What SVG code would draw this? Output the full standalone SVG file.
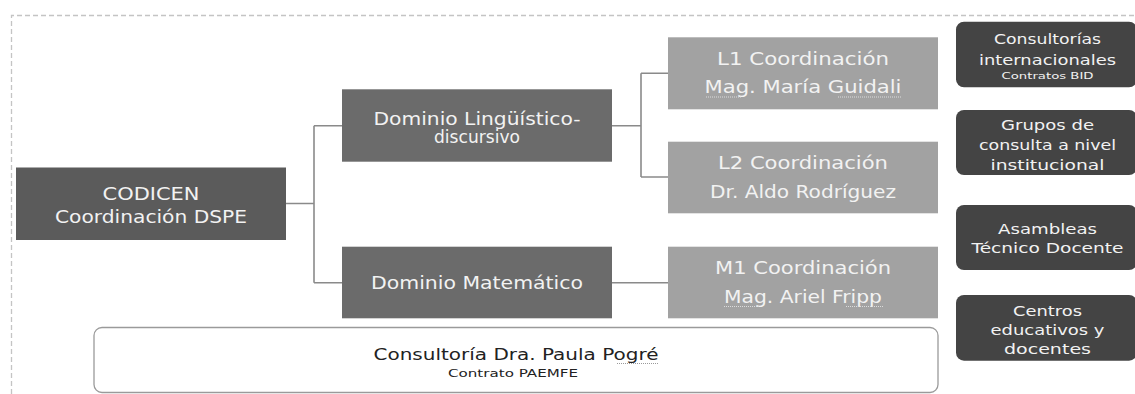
<svg xmlns="http://www.w3.org/2000/svg" width="1135" height="394" viewBox="0 0 1135 394">
<style>
text{font-family:"DejaVu Sans","Liberation Sans",sans-serif;text-anchor:middle}
.lt{fill:#f2f2f2}
.big{font-size:17px}
.mid{font-size:14.5px}
.sm{font-size:9.5px}
.conn{fill:none;stroke:#8a8a8a;stroke-width:1.6}
.sq{fill:none;stroke:#dcdcdc;stroke-width:1;stroke-dasharray:1 1}
.sqd{fill:none;stroke:#9a9a9a;stroke-width:1;stroke-dasharray:1 1}
</style>
<rect width="1135" height="394" fill="#ffffff"/>
<path d="M11.5 394 V15.5 H1135" fill="none" stroke="#c4c4c4" stroke-width="1.3" stroke-dasharray="5 3"/>
<g id="connectors">
<path class="conn" d="M286 203.5 H314 M314 125.7 V282.7 M314 125.7 H342 M314 282.7 H342"/>
<path class="conn" d="M612 125.7 H641 M641 73.3 V177 M641 73.3 H668 M641 177 H668"/>
<path class="conn" d="M612 282.7 H668"/>
</g>
<g id="codicen">
<rect x="16" y="167.5" width="270" height="72.5" fill="#5b5b5b"/>
<text class="lt big" x="151" y="200" textLength="97" lengthAdjust="spacingAndGlyphs">CODICEN</text>
<text class="lt big" x="151" y="223" textLength="192" lengthAdjust="spacingAndGlyphs">Coordinación DSPE</text>
</g>
<g id="dominio-ling">
<rect x="342" y="89.3" width="270" height="72.4" fill="#6b6b6b"/>
<text class="lt big" x="477" y="125" textLength="207" lengthAdjust="spacingAndGlyphs">Dominio Lingüístico-</text>
<text class="lt big" x="477" y="143" textLength="86" lengthAdjust="spacingAndGlyphs">discursivo</text>
</g>
<g id="dominio-mat">
<rect x="342" y="246.7" width="270" height="71.6" fill="#6b6b6b"/>
<text class="lt big" x="477" y="289" textLength="212" lengthAdjust="spacingAndGlyphs">Dominio Matemático</text>
</g>
<g id="l1">
<rect x="668" y="37.3" width="270" height="72" fill="#a2a2a2"/>
<text class="lt big" x="803" y="65" textLength="172" lengthAdjust="spacingAndGlyphs">L1 Coordinación</text>
<text class="lt big" x="803" y="93.3" textLength="197" lengthAdjust="spacingAndGlyphs">Mag. María Guidali</text>
<path class="sq" d="M706 97 H742 M838 97 H902"/>
</g>
<g id="l2">
<rect x="668" y="141.7" width="270" height="71.6" fill="#a2a2a2"/>
<text class="lt big" x="803" y="169.4" textLength="170" lengthAdjust="spacingAndGlyphs">L2 Coordinación</text>
<text class="lt big" x="803" y="197.7" textLength="186" lengthAdjust="spacingAndGlyphs">Dr. Aldo Rodríguez</text>
</g>
<g id="m1">
<rect x="668" y="246.7" width="270" height="71.6" fill="#a2a2a2"/>
<text class="lt big" x="803" y="274.4" textLength="176" lengthAdjust="spacingAndGlyphs">M1 Coordinación</text>
<text class="lt big" x="803" y="302.7" textLength="158" lengthAdjust="spacingAndGlyphs">Mag. Ariel Fripp</text>
<path class="sq" d="M724 306.5 H760 M846 306.5 H883"/>
</g>
<g id="consultoria-pogre">
<rect x="94" y="327.5" width="844" height="65" rx="8" fill="#ffffff" stroke="#9a9a9a" stroke-width="1.3"/>
<text x="516" y="359.5" font-size="16.5" fill="#222" textLength="285" lengthAdjust="spacingAndGlyphs">Consultoría Dra. Paula Pogré</text>
<text x="513" y="377" font-size="10.5" fill="#222" textLength="130" lengthAdjust="spacingAndGlyphs">Contrato PAEMFE</text>
<path class="sqd" d="M617 363.5 H658"/>
</g>
<g id="consultorias-int">
<rect x="956" y="21.7" width="181" height="65.6" rx="8" fill="#444444"/>
<text class="lt mid" x="1047.5" y="44" textLength="107" lengthAdjust="spacingAndGlyphs">Consultorías</text>
<text class="lt mid" x="1047.5" y="65" textLength="137" lengthAdjust="spacingAndGlyphs">internacionales</text>
<text class="lt sm" x="1047.5" y="78.5" textLength="92" lengthAdjust="spacingAndGlyphs">Contratos BID</text>
</g>
<g id="grupos-consulta">
<rect x="956" y="110" width="181" height="65" rx="8" fill="#444444"/>
<text class="lt mid" x="1047.5" y="130" textLength="93" lengthAdjust="spacingAndGlyphs">Grupos de</text>
<text class="lt mid" x="1047.5" y="150" textLength="137" lengthAdjust="spacingAndGlyphs">consulta a nivel</text>
<text class="lt mid" x="1047.5" y="169.5" textLength="114" lengthAdjust="spacingAndGlyphs">institucional</text>
</g>
<g id="asambleas">
<rect x="956" y="205" width="181" height="65" rx="8" fill="#444444"/>
<text class="lt mid" x="1047.5" y="233.5" textLength="99" lengthAdjust="spacingAndGlyphs">Asambleas</text>
<text class="lt mid" x="1047.5" y="253" textLength="152" lengthAdjust="spacingAndGlyphs">Técnico Docente</text>
</g>
<g id="centros">
<rect x="956" y="295" width="181" height="65.7" rx="8" fill="#444444"/>
<text class="lt mid" x="1047.5" y="315.5" textLength="69" lengthAdjust="spacingAndGlyphs">Centros</text>
<text class="lt mid" x="1047.5" y="335" textLength="114" lengthAdjust="spacingAndGlyphs">educativos y</text>
<text class="lt mid" x="1047.5" y="354" textLength="87" lengthAdjust="spacingAndGlyphs">docentes</text>
</g>
</svg>
